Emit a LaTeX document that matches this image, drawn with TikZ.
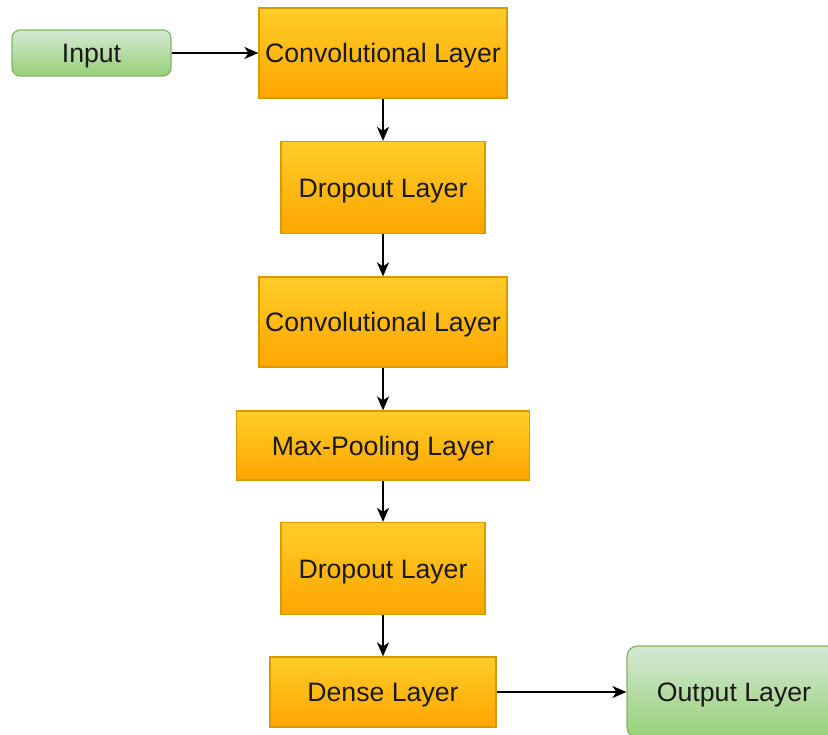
\documentclass[tikz,border=0pt]{standalone}
\usepackage{fontspec}
\setmainfont{Liberation Sans}
\usetikzlibrary{arrows.meta}
\definecolor{orTop}{HTML}{FFCD28}
\definecolor{orBot}{HTML}{FFA500}
\definecolor{orLine}{HTML}{D79B00}
\definecolor{grTop}{HTML}{D5E8D4}
\definecolor{grBot}{HTML}{97D077}
\definecolor{grLine}{HTML}{82B366}
\definecolor{txt}{HTML}{1A1A1A}
\tikzset{
  layer/.style={draw=orLine, line width=0.9pt, top color=orTop, bottom color=orBot,
    text=txt, font=\fontsize{20}{24}\selectfont, inner sep=0pt,
    text height=14.3pt, text depth=0pt},
  term/.style={draw=grLine, line width=0.9pt, top color=grTop, bottom color=grBot,
    rounded corners=#1, text=txt, font=\fontsize{20}{24}\selectfont, inner sep=0pt,
    text height=14.3pt, text depth=0pt},
  conn/.style={line width=1.4pt, -{Stealth[length=10.5pt,width=9pt,inset=3pt]}}
}
\begin{document}
\begin{tikzpicture}[x=0.75pt,y=-0.75pt]
\useasboundingbox (0,0) rectangle (828,735);
\clip (0,0) rectangle (828,735);
\node[term=6pt, minimum width=119.25pt, minimum height=34.5pt] (in) at (91.5,53) {Input};
\node[layer, minimum width=186pt, minimum height=67.5pt] (c1) at (383,53) {Convolutional Layer};
\node[layer, minimum width=153pt, minimum height=69pt] (d1) at (383,187.5) {Dropout Layer};
\node[layer, minimum width=186pt, minimum height=67.5pt] (c2) at (383,322) {Convolutional Layer};
\node[layer, minimum width=219.75pt, minimum height=51.75pt] (mp) at (383,445.5) {Max-Pooling Layer};
\node[layer, minimum width=153pt, minimum height=69pt] (d2) at (383,568.5) {Dropout Layer};
\node[layer, minimum width=169.5pt, minimum height=52.5pt] (de) at (383,692) {Dense Layer};
\node[term=8pt, minimum width=160.5pt, minimum height=69pt] (out) at (734,692) {Output Layer};
\draw[conn] (in) -- (c1);
\draw[conn] (c1) -- (d1);
\draw[conn] (d1) -- (c2);
\draw[conn] (c2) -- (mp);
\draw[conn] (mp) -- (d2);
\draw[conn] (d2) -- (de);
\draw[conn] (de) -- (out);
\end{tikzpicture}
\end{document}
